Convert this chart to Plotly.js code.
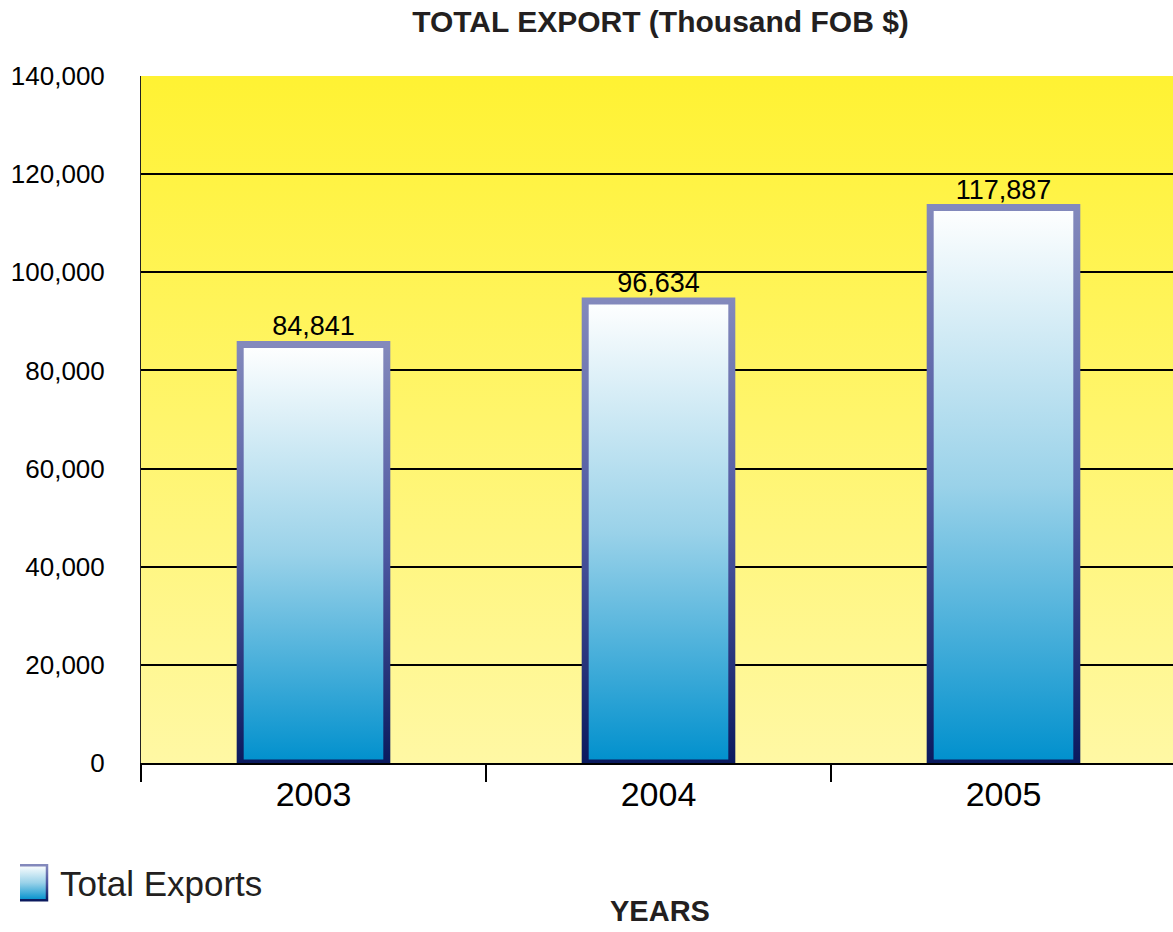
<!DOCTYPE html>
<html>
<head>
<meta charset="utf-8">
<script src="https://cdn.plot.ly/plotly-3.0.1.min.js"></script>
<style>
html,body{margin:0;padding:0;overflow:hidden;background:#ffffff;}
#chart{width:1180px;height:932px;}
</style>
</head>
<body>
<div id="chart"></div>
<script>
// ---- data ----
const years = ['2003', '2004', '2005'];
// bar heights as drawn in the picture (thousand FOB $)
const barValues = [85300, 94150, 113200];
// values printed above the bars
const labelValues = [84841, 96634, 117887];
const seriesName = 'Total Exports';
const chartTitle = 'TOTAL EXPORT (Thousand FOB $)';
const xTitle = 'YEARS';

const FONT = 'Liberation Sans, Arial, Helvetica, sans-serif';

const trace = {
  type: 'bar',
  x: years,
  y: barValues,
  width: 0.425,
  name: seriesName,
  text: labelValues.map(v => v.toLocaleString('en-US')),
  textposition: 'outside',
  textfont: {family: FONT, size: 27, color: '#000000'},
  marker: {color: '#5BB5DD', line: {color: '#5A62A0', width: 7}},
  cliponaxis: true,
  hoverinfo: 'skip'
};

const layout = {
  width: 1180,
  height: 932,
  margin: {l: 141, r: 4, t: 76, b: 169},
  paper_bgcolor: '#ffffff',
  plot_bgcolor: '#FFF45C',
  font: {family: FONT, color: '#000000'},
  title: {
    text: chartTitle,
    font: {family: FONT, size: 30, weight: 'bold', color: '#231F20'},
    xref: 'container', x: 660.5 / 1180, xanchor: 'center',
    yref: 'container', y: 1 - 21 / 932, yanchor: 'middle'
  },
  xaxis: {
    type: 'category',
    categoryorder: 'array',
    categoryarray: years,
    range: [-0.5, 2.5],
    tickson: 'boundaries',
    ticks: 'outside',
    ticklen: 17,
    tickwidth: 1.5,
    tickcolor: '#000000',
    showline: true,
    linecolor: '#000000',
    linewidth: 2,
    showgrid: false,
    zeroline: false,
    tickfont: {family: FONT, size: 34, color: '#000000'},
    automargin: false,
    fixedrange: true
  },
  yaxis: {
    range: [0, 140000],
    tick0: 0,
    dtick: 20000,
    tickformat: ',d',
    showgrid: true,
    gridcolor: '#000000',
    gridwidth: 2,
    zeroline: false,
    showline: true,
    linecolor: '#222222',
    linewidth: 1,
    ticks: '',
    ticklabelstandoff: 30,
    tickfont: {family: FONT, size: 26, color: '#000000'},
    automargin: false,
    fixedrange: true
  },
  annotations: [{
    text: xTitle,
    showarrow: false,
    xref: 'paper', x: (660 - 141) / 1035, xanchor: 'center',
    yref: 'paper', y: -(911.5 - 763) / 687, yanchor: 'middle',
    font: {family: FONT, size: 29, weight: 'bold', color: '#231F20'}
  }],
  showlegend: true,
  legend: {
    orientation: 'h',
    xref: 'container', yref: 'container',
    x: 20 / 1180, xanchor: 'left',
    y: 1 - 883 / 932, yanchor: 'middle',
    font: {family: FONT, size: 35, color: '#231F20'},
    bgcolor: 'rgba(0,0,0,0)'
  }
};

const SVGNS = 'http://www.w3.org/2000/svg';
function makeGradient(defs, id, stops) {
  const g = document.createElementNS(SVGNS, 'linearGradient');
  g.setAttribute('id', id);
  g.setAttribute('x1', '0'); g.setAttribute('y1', '0');
  g.setAttribute('x2', '0'); g.setAttribute('y2', '1');
  stops.forEach(s => {
    const st = document.createElementNS(SVGNS, 'stop');
    st.setAttribute('offset', s[0]);
    st.setAttribute('stop-color', s[1]);
    g.appendChild(st);
  });
  defs.appendChild(g);
}

Plotly.newPlot('chart', [trace], layout, {staticPlot: true, displayModeBar: false}).then(gd => {
  const svg = gd.querySelector('svg.main-svg');
  let defs = svg.querySelector('defs');
  if (!defs) { defs = document.createElementNS(SVGNS, 'defs'); svg.insertBefore(defs, svg.firstChild); }
  makeGradient(defs, 'plotBgGrad', [['0', '#FFF233'], ['1', '#FFF8A4']]);
  makeGradient(defs, 'barFillGrad', [['0', '#FFFFFF'], ['0.5', '#9AD2E9'], ['1', '#0090CD']]);
  makeGradient(defs, 'barStrokeGrad', [['0', '#8389BC'], ['0.5', '#4C56A0'], ['1', '#0B1A5E']]);

  gd.querySelectorAll('.bglayer rect.bg').forEach(r => { r.style.fill = 'url(#plotBgGrad)'; });
  gd.querySelectorAll('.barlayer .point path').forEach(p => {
    p.style.fill = 'url(#barFillGrad)';
    p.style.stroke = 'url(#barStrokeGrad)';
  });
  gd.querySelectorAll('.legend .legendpoints path').forEach(p => {
    p.setAttribute('d', 'M18,17.5H-18V-17.5H18Z');
    p.setAttribute('transform', 'translate(9,0)');
    p.style.fill = 'url(#barFillGrad)';
    p.style.stroke = 'url(#barStrokeGrad)';
    p.style.strokeWidth = '2.5px';
  });
});
</script>
</body>
</html>
